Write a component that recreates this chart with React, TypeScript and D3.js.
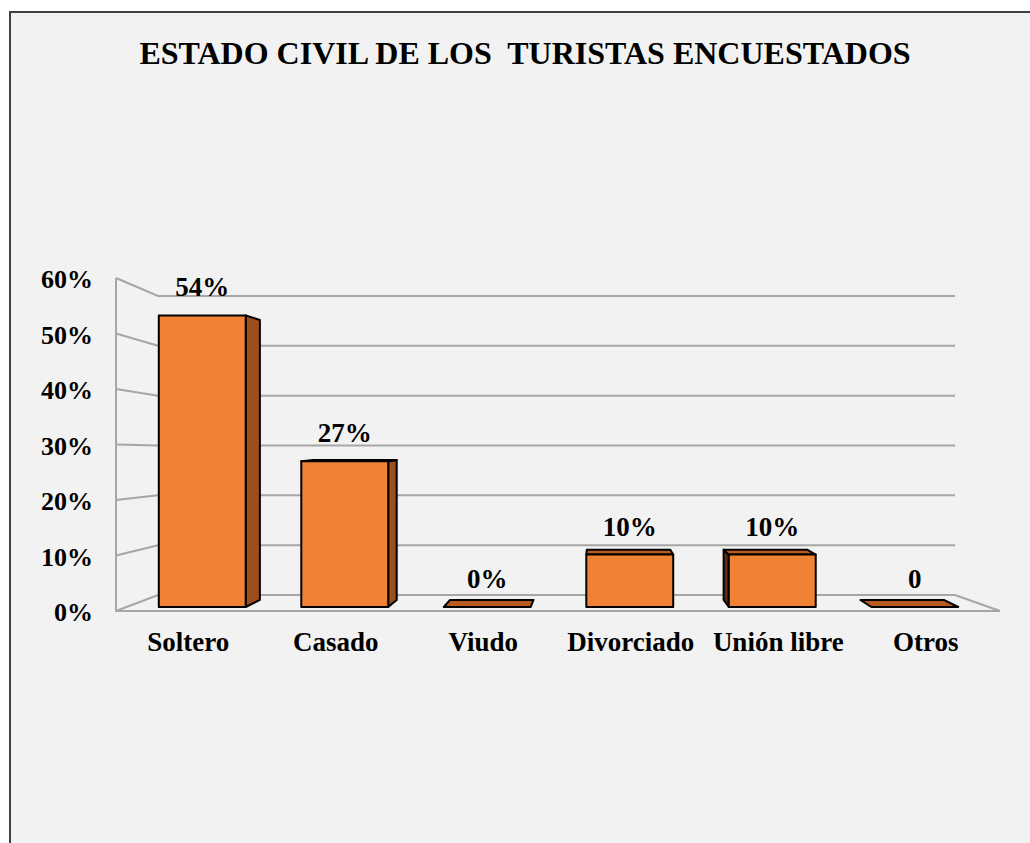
import React, { useEffect, useRef } from 'react';
import * as d3 from 'd3';

const width = 1030;
const height = 843;
const FONT = "'Times New Roman', 'Liberation Serif', serif";

const TITLE = 'ESTADO CIVIL DE LOS  TURISTAS ENCUESTADOS';
const categories = ['Soltero', 'Casado', 'Viudo', 'Divorciado', 'Unión libre', 'Otros'];
const values = [0.54, 0.27, 0, 0.097, 0.097, 0];
const valueLabels = ['54%', '27%', '0%', '10%', '10%', '0'];
const ticks = [0, 0.1, 0.2, 0.3, 0.4, 0.5, 0.6];

// rough perspective for the bar boxes (vanishing point + depth shrink)
const VX = 600;
const VY = 430;
const DEPTH = 0.96;

const App = () => {
    const ref = useRef(null);

    useEffect(() => {
        const svg = d3.select(ref.current);
        svg.selectAll('*').remove();

        // chart area + border (only left and top edges show in the picture)
        svg.append('rect')
            .attr('x', 10).attr('y', 12)
            .attr('width', width - 10).attr('height', height - 12)
            .attr('fill', '#f2f2f2');
        svg.append('path')
            .attr('d', `M10,${height} L10,12 L${width},12`)
            .attr('fill', 'none')
            .attr('stroke', '#404040')
            .attr('stroke-width', 2);

        svg.append('text')
            .attr('x', 525).attr('y', 64)
            .attr('text-anchor', 'middle')
            .attr('font-family', FONT)
            .attr('font-weight', 'bold')
            .attr('font-size', 32)
            .style('white-space', 'pre')
            .text(TITLE);

        // wall scales: front edge of the side wall, back wall, and the plane of the bars
        const yFront = d3.scaleLinear().domain([0, 0.6]).range([611, 278]);
        const yBack = d3.scaleLinear().domain([0, 0.6]).range([595, 296]);
        const yBar = d3.scaleLinear().domain([0, 0.6]).range([607, 283]);
        const frontL = 116, backL = 158, backR = 955, frontR = 1000;

        const x = d3.scaleBand()
            .domain(categories)
            .range([131, 986])
            .paddingInner(0.39)
            .paddingOuter(0.195);

        const grid = svg.append('g')
            .attr('fill', 'none')
            .attr('stroke', '#a6a6a6')
            .attr('stroke-width', 2);

        ticks.forEach(t => {
            grid.append('path')
                .attr('d', `M${frontL},${yFront(t)} L${backL},${yBack(t)} L${backR},${yBack(t)}`);
        });
        // floor + left front edge
        grid.append('path')
            .attr('d', `M${frontL},${yFront(0.6)} L${frontL},${yFront(0)} L${frontR},${yFront(0)} L${backR},${yBack(0)}`);

        // y tick labels
        svg.append('g')
            .selectAll('text')
            .data(ticks)
            .enter()
            .append('text')
            .attr('x', 93)
            .attr('y', d => yFront(d) + 10)
            .attr('text-anchor', 'end')
            .attr('font-family', FONT)
            .attr('font-weight', 'bold')
            .attr('font-size', 26)
            .text(d => d3.format('.0%')(d));

        const proj = (px, py) => [VX + (px - VX) * DEPTH, VY + (py - VY) * DEPTH];
        const poly = pts => 'M' + pts.map(p => p.join(',')).join('L') + 'Z';

        const bars = svg.append('g')
            .attr('stroke', '#000')
            .attr('stroke-width', 2)
            .attr('stroke-linejoin', 'round');

        categories.forEach((c, i) => {
            const x0 = x(c);
            const x1 = x0 + x.bandwidth();
            const yt = yBar(values[i]);
            const yb = yBar(0);
            const h = yb - yt;

            if (h > 0.5 && x1 < VX) {
                bars.append('path')
                    .attr('d', poly([[x1, yt], proj(x1, yt), proj(x1, yb), [x1, yb]]))
                    .attr('fill', '#9c4e1d');
            }
            if (h > 0.5 && x0 > VX) {
                bars.append('path')
                    .attr('d', poly([[x0, yt], proj(x0, yt), proj(x0, yb), [x0, yb]]))
                    .attr('fill', '#5f2d0f');
            }
            if (yt > VY) {
                bars.append('path')
                    .attr('d', poly([[x0, yt], [x1, yt], proj(x1, yt), proj(x0, yt)]))
                    .attr('fill', '#b95b21');
            }
            if (h > 0.5) {
                bars.append('rect')
                    .attr('x', x0).attr('y', yt)
                    .attr('width', x1 - x0).attr('height', h)
                    .attr('fill', '#ef8233');
            }
        });

        // value labels
        svg.append('g')
            .selectAll('text')
            .data(categories)
            .enter()
            .append('text')
            .attr('x', d => x(d) + x.bandwidth() / 2)
            .attr('y', (d, i) => yBar(values[i]) - 19)
            .attr('text-anchor', 'middle')
            .attr('font-family', FONT)
            .attr('font-weight', 'bold')
            .attr('font-size', 27)
            .text((d, i) => valueLabels[i]);

        // category labels sit on the front edge of the floor
        svg.append('g')
            .selectAll('text')
            .data(categories)
            .enter()
            .append('text')
            .attr('x', d => VX + (x(d) + x.bandwidth() / 2 - VX) * 1.035)
            .attr('y', 651)
            .attr('text-anchor', 'middle')
            .attr('font-family', FONT)
            .attr('font-weight', 'bold')
            .attr('font-size', 27)
            .text(d => d);
    }, []);

    return (
        <div style={{ position: 'absolute', left: 0, top: 0 }}>
            <svg ref={ref} width={width} height={height} />
        </div>
    );
};

export default App;
